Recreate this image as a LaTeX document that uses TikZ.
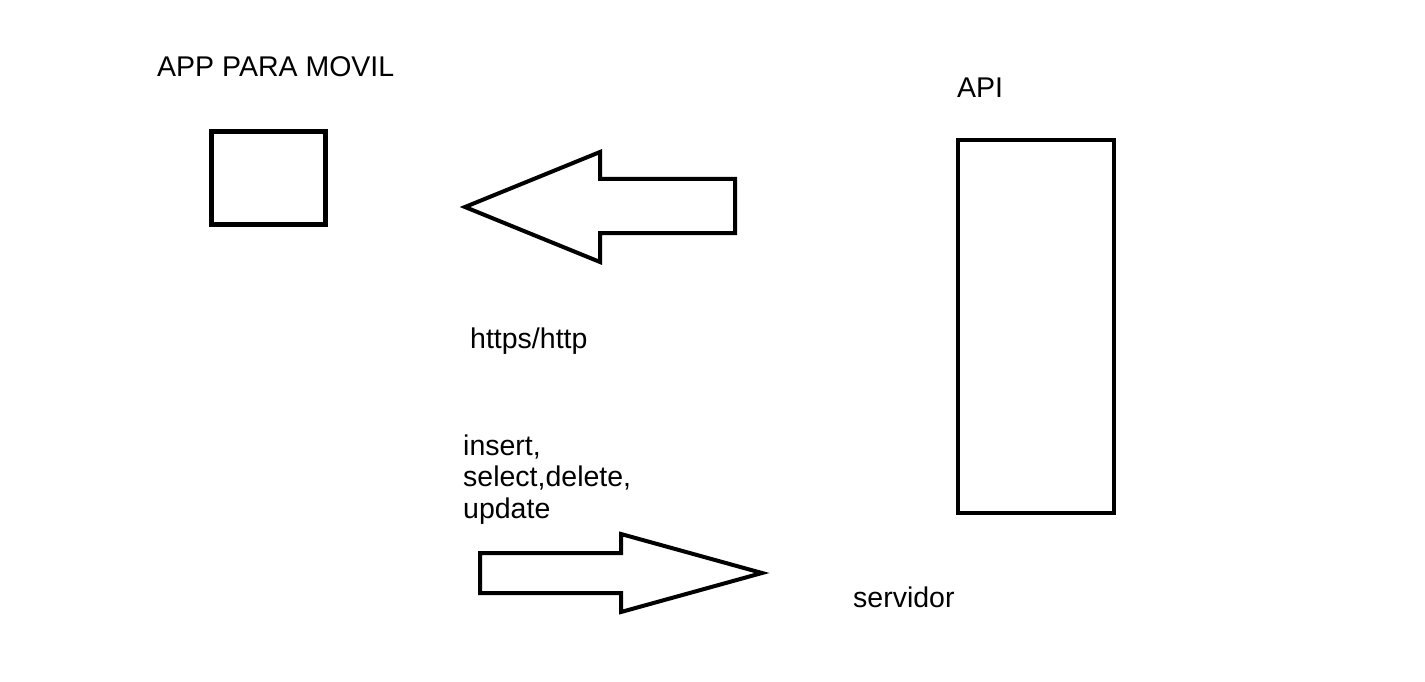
\documentclass[tikz,border=0pt]{standalone}
\usepackage{fontspec}
\setmainfont{Liberation Sans}
\begin{document}
\begin{tikzpicture}[x=1pt,y=-1pt,
  lbl/.style={inner sep=0pt,anchor=base west,font=\fontsize{28.5}{31.5}\selectfont},
  boxshape/.style={draw,line width=4.5pt,inner sep=0pt},
  bigarrow/.style={draw,line width=4pt,line join=miter}]
\useasboundingbox[fill=white] (0,0) rectangle (1425,682);
\node[lbl] (app) at (157,77) {APP PARA MOVIL};
\node[lbl] (api) at (957,98) {API};
\node[boxshape,minimum width=114pt,minimum height=93pt] (movil) at (268.5,178) {};
\node[boxshape,minimum width=156pt,minimum height=373pt] (apibox) at (1036,326.5) {};
\draw[bigarrow] (465,207) -- (600,152) -- (600,179) -- (735,179) -- (735,233) -- (600,233) -- (600,262) -- cycle;
\node[lbl] (proto) at (470,348) {https/http};
\node[lbl,align=left] (ops) at (463,518) {insert,\\select,delete,\\update};
\draw[bigarrow] (762,573) -- (621,534) -- (621,553) -- (480,553) -- (480,593) -- (621,593) -- (621,612) -- cycle;
\node[lbl] (srv) at (853,607) {servidor};
\end{tikzpicture}
\end{document}
